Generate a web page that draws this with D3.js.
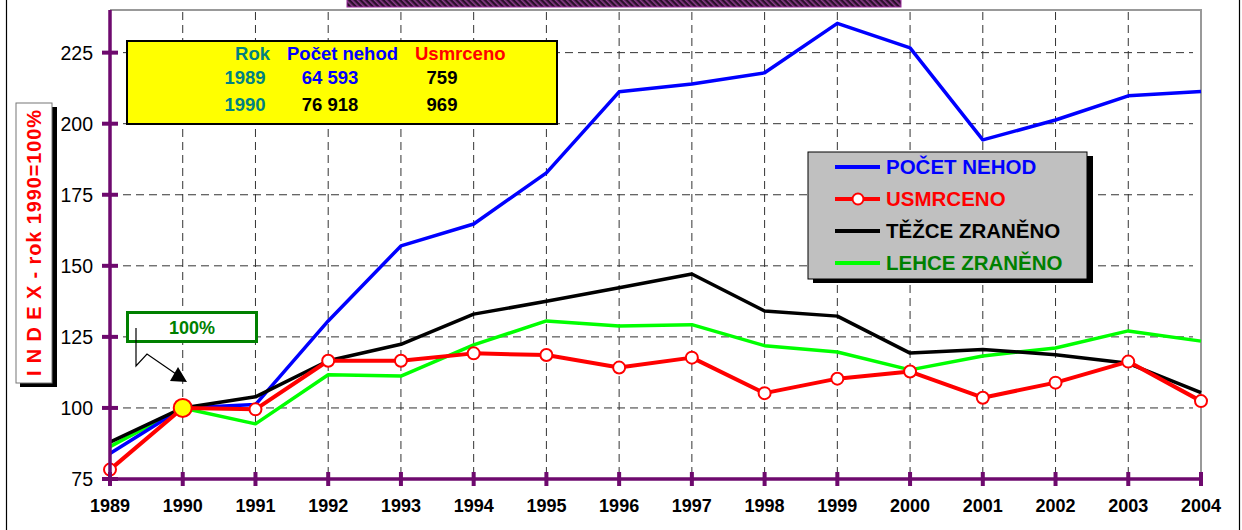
<!DOCTYPE html>
<html>
<head>
<meta charset="utf-8">
<script src="https://cdn.jsdelivr.net/npm/d3@7"></script>
<style>
  body { margin: 0; background: #fff; }
  text { font-family: "Liberation Sans", Arial, sans-serif; }
</style>
</head>
<body>
<script>
const years = [1989, 1990, 1991, 1992, 1993, 1994, 1995, 1996, 1997, 1998, 1999, 2000, 2001, 2002, 2003, 2004];
const pocetNehod = [84.0, 100, 101.2, 130.6, 157.0, 164.7, 182.7, 211.2, 214.0, 217.9, 235.3, 226.7, 194.3, 201.3, 209.8, 211.3];
const usmrceno = [78.3, 100, 99.5, 116.6, 116.6, 119.2, 118.6, 114.2, 117.7, 105.2, 110.3, 112.8, 103.6, 108.9, 116.3, 102.4];
const tezceZraneno = [88.0, 100, 103.9, 116.6, 122.4, 133.0, 137.5, 142.3, 147.1, 134.1, 132.3, 119.3, 120.6, 118.7, 115.7, 105.4];
const lehceZraneno = [86.4, 100, 94.4, 111.7, 111.2, 122.2, 130.6, 128.8, 129.3, 121.9, 119.7, 113.4, 118.3, 121.1, 127.1, 123.5];
const yTicks = [75, 100, 125, 150, 175, 200, 225];

const infoHeader = ['Rok', 'Počet nehod', 'Usmrceno'];
const infoRows = [
  ['1989', '64 593', '759'],
  ['1990', '76 918', '969'],
];

const series = [
  { name: 'LEHCE ZRANĚNO', values: lehceZraneno, color: '#00ff00', text: '#008000', width: 3.5 },
  { name: 'POČET NEHOD', values: pocetNehod, color: '#0000ff', text: '#0000ff', width: 3.5 },
  { name: 'TĚŽCE ZRANĚNO', values: tezceZraneno, color: '#000000', text: '#000000', width: 3.5 },
  { name: 'USMRCENO', values: usmrceno, color: '#ff0000', text: '#ff0000', width: 4, markers: true },
];
const legendOrder = ['POČET NEHOD', 'USMRCENO', 'TĚŽCE ZRANĚNO', 'LEHCE ZRANĚNO'];

const W = 1242, H = 530;
const plot = { left: 110, right: 1201, top: 10, bottom: 479 };
const purple = '#6e0a6e';

const x = d3.scaleLinear().domain([1989, 2004]).range([plot.left, plot.right]);
const y = d3.scaleLinear().domain([75, 240]).range([plot.bottom, plot.top]);

const svg = d3.select('body').append('svg')
  .attr('width', W)
  .attr('height', H);

const defs = svg.append('defs');
const pat = defs.append('pattern')
  .attr('id', 'hatch')
  .attr('width', 4)
  .attr('height', 4)
  .attr('patternUnits', 'userSpaceOnUse')
  .attr('patternTransform', 'rotate(-45)');
pat.append('rect').attr('width', 4).attr('height', 4).attr('fill', '#2a0f2a');
pat.append('rect').attr('width', 1.6).attr('height', 4).attr('fill', '#8a3c8a');

// outer frame
svg.append('line').attr('x1', 6.5).attr('x2', 6.5).attr('y1', 0).attr('y2', H)
  .attr('stroke', '#000').attr('stroke-width', 1.2);
svg.append('line').attr('x1', 1239.5).attr('x2', 1239.5).attr('y1', 0).attr('y2', H)
  .attr('stroke', '#000').attr('stroke-width', 1.2);

// title bar remnant
svg.append('rect')
  .attr('x', 347).attr('y', -2).attr('width', 554).attr('height', 9)
  .attr('fill', 'url(#hatch)')
  .attr('stroke', '#9a2a9a').attr('stroke-width', 1);

// plot border (top + right)
svg.append('path')
  .attr('d', `M${plot.left},${plot.top}H${plot.right}V${plot.bottom}`)
  .attr('fill', 'none')
  .attr('stroke', '#999')
  .attr('stroke-width', 2);

// grid
const grid = svg.append('g').attr('stroke', '#333').attr('stroke-width', 1).attr('stroke-dasharray', '8,5');
grid.selectAll('.gx')
  .data(years.filter(d => d > 1989 && d < 2004))
  .enter().append('line')
  .attr('x1', d => x(d)).attr('x2', d => x(d))
  .attr('y1', plot.top + 2).attr('y2', plot.bottom);
grid.selectAll('.gy')
  .data(yTicks.filter(d => d > 75))
  .enter().append('line')
  .attr('x1', plot.left).attr('x2', plot.right - 8)
  .attr('y1', d => y(d)).attr('y2', d => y(d));

// info box
const info = svg.append('g');
info.append('rect')
  .attr('x', 127).attr('y', 41).attr('width', 430).attr('height', 83)
  .attr('fill', '#ffff00').attr('stroke', '#000').attr('stroke-width', 2);
const colX = [270, 287, 415];
const headColors = ['#008080', '#0000ff', '#ff0000'];
infoHeader.forEach((t, i) => {
  info.append('text')
    .attr('x', colX[i]).attr('y', 60)
    .attr('text-anchor', i === 0 ? 'end' : 'start')
    .attr('font-size', 18.5).attr('font-weight', 'bold')
    .attr('fill', headColors[i])
    .text(t);
});
const rowColors = [['#008080', '#0000ff', '#000'], ['#008080', '#000', '#000']];
const valX = [245, 330, 442];
infoRows.forEach((row, r) => {
  row.forEach((t, i) => {
    info.append('text')
      .attr('x', valX[i]).attr('y', 84 + r * 27)
      .attr('text-anchor', 'middle')
      .attr('font-size', 18.5).attr('font-weight', 'bold')
      .attr('fill', rowColors[r][i])
      .text(t);
  });
});

// lines
const line = d3.line()
  .x((d, i) => x(years[i]))
  .y(d => y(d));

series.forEach((s) => {
  svg.append('path')
    .datum(s.values)
    .attr('d', line)
    .attr('fill', 'none')
    .attr('stroke', s.color)
    .attr('stroke-width', s.width)
    .attr('stroke-linejoin', 'round');
});

const red = series.find(s => s.markers);
svg.selectAll('.mk')
  .data(red.values)
  .enter().append('circle')
  .attr('cx', (d, i) => x(years[i]))
  .attr('cy', d => y(d))
  .attr('r', (d, i) => (years[i] === 1990 ? 9 : 6))
  .attr('fill', (d, i) => (years[i] === 1990 ? '#ffff00' : '#fff'))
  .attr('stroke', '#ff0000')
  .attr('stroke-width', 2);

// axes
const yAxis = svg.append('g');
yAxis.append('line')
  .attr('x1', plot.left).attr('x2', plot.left)
  .attr('y1', plot.top).attr('y2', plot.bottom + 3)
  .attr('stroke', purple).attr('stroke-width', 3.5);
yAxis.selectAll('.yt')
  .data(yTicks)
  .enter().append('line')
  .attr('x1', plot.left - 8).attr('x2', plot.left + 8)
  .attr('y1', d => y(d)).attr('y2', d => y(d))
  .attr('stroke', purple).attr('stroke-width', 4);
yAxis.selectAll('.yl')
  .data(yTicks)
  .enter().append('text')
  .attr('x', 93).attr('y', d => y(d) + 7)
  .attr('text-anchor', 'end')
  .attr('font-size', 19.5)
  .text(d => d);

const xAxis = svg.append('g');
xAxis.append('line')
  .attr('x1', plot.left).attr('x2', plot.right)
  .attr('y1', plot.bottom).attr('y2', plot.bottom)
  .attr('stroke', purple).attr('stroke-width', 3.5);
xAxis.selectAll('.xt')
  .data(years)
  .enter().append('line')
  .attr('x1', d => x(d)).attr('x2', d => x(d))
  .attr('y1', plot.bottom - 7).attr('y2', plot.bottom + 7)
  .attr('stroke', purple).attr('stroke-width', 4);
xAxis.selectAll('.xl')
  .data(years)
  .enter().append('text')
  .attr('x', d => x(d)).attr('y', 512)
  .attr('text-anchor', 'middle')
  .attr('font-size', 18).attr('font-weight', 'bold')
  .text(d => d);

// y axis title
svg.append('rect').attr('x', 20).attr('y', 107).attr('width', 37).attr('height', 280).attr('fill', '#000');
svg.append('rect').attr('x', 16).attr('y', 103).attr('width', 36).attr('height', 280)
  .attr('fill', '#fff').attr('stroke', '#777').attr('stroke-width', 1);
svg.append('text')
  .attr('transform', 'translate(41, 243) rotate(-90)')
  .attr('text-anchor', 'middle')
  .attr('font-size', 20).attr('font-weight', 'bold')
  .attr('fill', '#ff0000')
  .attr('textLength', 266)
  .attr('lengthAdjust', 'spacing')
  .text('I N D E X - rok 1990=100%');

// 100% annotation
svg.append('rect')
  .attr('x', 127.5).attr('y', 312.5).attr('width', 129).attr('height', 29)
  .attr('fill', '#fff').attr('stroke', '#008000').attr('stroke-width', 3);
svg.append('text')
  .attr('x', 192).attr('y', 334)
  .attr('text-anchor', 'middle')
  .attr('font-size', 18).attr('font-weight', 'bold')
  .attr('fill', '#008000')
  .text('100%');
svg.append('path')
  .attr('d', 'M136,328V366L147,354L176,374')
  .attr('fill', 'none').attr('stroke', '#000').attr('stroke-width', 1.2);
svg.append('path')
  .attr('d', 'M187,382L170,381L178,367Z')
  .attr('fill', '#000');

// legend
const lg = svg.append('g');
lg.append('rect').attr('x', 813).attr('y', 156).attr('width', 280).attr('height', 127).attr('fill', '#000');
lg.append('rect').attr('x', 808).attr('y', 152).attr('width', 279).attr('height', 127)
  .attr('fill', '#c0c0c0').attr('stroke', '#000').attr('stroke-width', 1);
legendOrder.forEach((name, i) => {
  const s = series.find(d => d.name === name);
  const ly = 167 + i * 32;
  lg.append('line')
    .attr('x1', 835).attr('x2', 880).attr('y1', ly).attr('y2', ly)
    .attr('stroke', s.color).attr('stroke-width', 4);
  if (s.markers) {
    lg.append('circle').attr('cx', 858).attr('cy', ly).attr('r', 5.5)
      .attr('fill', '#fff').attr('stroke', s.color).attr('stroke-width', 2);
  }
  lg.append('text')
    .attr('x', 886).attr('y', ly + 7)
    .attr('font-size', 20.5).attr('font-weight', 'bold')
    .attr('fill', s.text)
    .text(name);
});
</script>
</body>
</html>
